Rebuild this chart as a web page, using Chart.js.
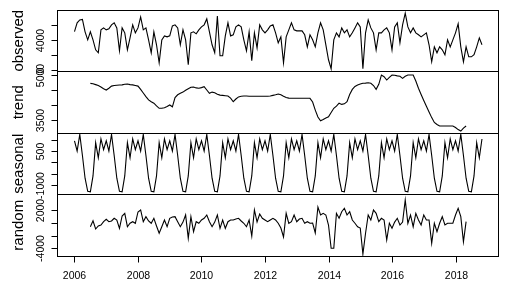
<!DOCTYPE html>
<html>
<head>
<meta charset="utf-8">
<script src="https://cdn.jsdelivr.net/npm/chart.js@4/dist/chart.umd.min.js"></script>
<style>
  html, body { margin: 0; padding: 0; background: #fff; }
</style>
</head>
<body>
<canvas id="decomp" width="508" height="289"></canvas>
<script>
// monthly series, Jan 2006 .. Nov 2018
const startYear = 2006;
const frequency = 12;

const observed = [
  5090, 6230, 6620, 6690, 5050, 4000, 5050, 4000, 2690, 2300, 5310, 5570,
  5310, 5440, 5970, 6230, 5570, 2560, 5570, 4920, 2690, 4260, 5970, 4920,
  5570, 7010, 5310, 5570, 4000, 2300, 5050, 3350, 990, 4000, 4520, 4390,
  4520, 5830, 5970, 5570, 3350, 5310, 4000, 720, 4920, 5050, 4790, 5310,
  5700, 5970, 6750, 5050, 3350, 2300, 7140, 1900, 1900, 4520, 6230, 4520,
  4660, 5700, 5970, 5700, 4000, 2560, 5050, 1250, 4920, 2950, 5970, 5310,
  4920, 5310, 5830, 5970, 4920, 3610, 4390, 990, 4390, 5310, 6230, 5310,
  5180, 5180, 5180, 4660, 3080, 4660, 4000, 3080, 4920, 6230, 5310, 3350,
  1380, 200, 4000, 4920, 4390, 5570, 4920, 5310, 4390, 4920, 5570, 6230,
  5700, 200, 4920, 6620, 5570, 4920, 2690, 4920, 4920, 5310, 5570, 4920,
  2690, 5700, 6230, 3610, 5970, 7500, 5700, 4920, 5570, 4920, 4660, 4390,
  4660, 4920, 3350, 1120, 3080, 2300, 3080, 2690, 2040, 4000, 3080, 4000,
  4920, 6100, 3080, 1120, 3080, 1770, 1770, 2040, 3080, 4260, 3350
];

const trend = [
  null, null, null, null, null, null, 4720, 4710, 4680, 4650, 4600, 4540,
  4500, 4560, 4630, 4650, 4660, 4665, 4670, 4690, 4700, 4680, 4670, 4650,
  4630, 4520, 4400, 4280, 4170, 4110, 4060, 3970, 3890, 3890, 3910, 3950,
  4000, 3940, 4250, 4340, 4390, 4430, 4490, 4540, 4590, 4600, 4570, 4560,
  4580, 4610, 4500, 4390, 4430, 4410, 4360, 4330, 4320, 4310, 4300, 4230,
  4110, 4200, 4270, 4290, 4300, 4300, 4290, 4290, 4290, 4290, 4290, 4290,
  4290, 4290, 4300, 4320, 4340, 4367, 4340, 4290, 4250, 4230, 4223, 4223,
  4223, 4223, 4223, 4223, 4223, 4223, 4100, 3830, 3600, 3477, 3520, 3570,
  3610, 3750, 3890, 3960, 4060, 4020, 4040, 4110, 4350, 4520, 4620, 4667,
  4700, 4723, 4730, 4743, 4723, 4650, 4523, 4690, 5000, 4943, 4833, 4920,
  5000, 4990, 4970, 4960, 4890, 4960, 5000, 5000, 5000, 4800, 4560, 4350,
  4150, 3960, 3770, 3580, 3420, 3350, 3300, 3300, 3300, 3300, 3300, 3300,
  3250, 3180, 3133, 3230, 3300, null, null, null, null, null, null
];

const seasonal = [
  950, 500, 1230, 300, -700, -1280, -1300, -600, 870, 200, 1030, 560,
  950, 500, 1230, 300, -700, -1280, -1300, -600, 870, 200, 1030, 560,
  950, 500, 1230, 300, -700, -1280, -1300, -600, 870, 200, 1030, 560,
  950, 500, 1230, 300, -700, -1280, -1300, -600, 870, 200, 1030, 560,
  950, 500, 1230, 300, -700, -1280, -1300, -600, 870, 200, 1030, 560,
  950, 500, 1230, 300, -700, -1280, -1300, -600, 870, 200, 1030, 560,
  950, 500, 1230, 300, -700, -1280, -1300, -600, 870, 200, 1030, 560,
  950, 500, 1230, 300, -700, -1280, -1300, -600, 870, 200, 1030, 560,
  950, 500, 1230, 300, -700, -1280, -1300, -600, 870, 200, 1030, 560,
  950, 500, 1230, 300, -700, -1280, -1300, -600, 870, 200, 1030, 560,
  950, 500, 1230, 300, -700, -1280, -1300, -600, 870, 200, 1030, 560,
  950, 500, 1230, 300, -700, -1280, -1300, -600, 870, 200, 1030, 560,
  950, 500, 1230, 300, -700, -1280, -1300, -600, 870, 200, 1030
];

const random = [
  null, null, null, null, null, null, -620, 320, -980, -500, -350, 170,
  540, 170, 280, 700, 430, -870, 1060, 1480, -620, -80, 170, -80,
  1690, 2000, 170, 950, 280, -80, 700, -500, -1650, -620, 430, -620,
  700, 900, 950, 170, -620, 100, 1220, -2430, 950, -1400, 170, -80,
  430, 700, 1220, 170, -620, 100, 1220, -870, 430, -870, 170, 430,
  430, 590, 700, 280, -80, -620, 430, -2080, 2000, 120, 1370, 700,
  430, 170, 430, 700, 430, -80, -830, -2230, 1480, -80, 170, 1220,
  170, 590, 700, -80, 170, -80, -40, -1600, 2470, 1220, 1480, 1220,
  -350, -4000, -4000, 1480, 700, 1730, 2270, 1220, 1730, 430, -80, -620,
  -830, -4900, -1650, 1220, 430, 2000, 1480, 170, 700, 430, -2700, -80,
  -870, 100, 700, -350, 100, 3570, -80, 1220, -620, 1480, 430, -350,
  1220, 430, 430, -3220, -80, -1400, -80, 950, -350, -80, -80, -80,
  1220, 2270, 950, -2970, 170, null, null, null, null, null, null
];

// axis ticks and the labels R managed to print
const xTicks = [2006, 2008, 2010, 2012, 2014, 2016, 2018];
const obsTicks = [0, 2000, 4000, 6000];
const obsLabels = ['0', '', '4000', ''];
const trendTicks = [3500, 4000, 4500, 5000];
const trendLabels = ['3500', '', '', '5000'];
const seasTicks = [-1000, -500, 0, 500, 1000];
const seasLabels = ['-1000', '', '', '500', ''];
const randTicks = [-4000, -2000, 0, 2000];
const randLabels = ['-4000', '', '', '2000'];

const times = observed.map((_, i) => startYear + i / frequency);

const panels = [
  { id: 'yObs', title: 'observed', data: observed, min: -160, max: 7920, ticks: obsTicks, labels: obsLabels },
  { id: 'yTrend', title: 'trend', data: trend, min: 3067, max: 5117, ticks: trendTicks, labels: trendLabels },
  { id: 'ySeas', title: 'seasonal', data: seasonal, min: -1419, max: 1294, ticks: seasTicks, labels: seasLabels },
  { id: 'yRand', title: 'random', data: random, min: -5207, max: 4429, ticks: randTicks, labels: randLabels }
];

const FONT = '"Liberation Sans", Arial, sans-serif';

// draws the R-style frame: boxes, outward ticks, rotated labels, panel titles
const rFrame = {
  id: 'rFrame',
  afterDraw(chart) {
    const ctx = chart.ctx;
    const area = chart.chartArea;
    const xs = chart.scales.x;
    ctx.save();
    ctx.strokeStyle = '#000';
    ctx.fillStyle = '#000';
    ctx.lineWidth = 1;
    const L = Math.floor(area.left) + 0.5;
    const R = Math.floor(area.right) + 0.5;

    panels.forEach(p => {
      const s = chart.scales[p.id];
      const T = Math.floor(s.top) + 0.5;
      const B = Math.floor(s.bottom) + 0.5;
      ctx.strokeRect(L, T, R - L, B - T);

      ctx.font = '10.5px ' + FONT;
      ctx.textAlign = 'center';
      ctx.textBaseline = 'middle';
      p.ticks.forEach((v, i) => {
        const y = Math.round(s.getPixelForValue(v)) + 0.5;
        ctx.beginPath();
        ctx.moveTo(L - 6, y);
        ctx.lineTo(L, y);
        ctx.stroke();
        if (p.labels[i]) {
          ctx.save();
          ctx.translate(41, y);
          ctx.rotate(-Math.PI / 2);
          ctx.fillText(p.labels[i], 0, 0);
          ctx.restore();
        }
      });

      ctx.save();
      ctx.font = '15px ' + FONT;
      ctx.translate(18.5, (s.top + s.bottom) / 2);
      ctx.rotate(-Math.PI / 2);
      ctx.fillText(p.title, 0, 0);
      ctx.restore();
    });

    // time axis below the last panel
    const yb = Math.floor(area.bottom) + 0.5;
    ctx.beginPath();
    ctx.moveTo(Math.round(xs.getPixelForValue(xTicks[0])) + 0.5, yb);
    ctx.lineTo(Math.round(xs.getPixelForValue(xTicks[xTicks.length - 1])) + 0.5, yb);
    ctx.stroke();
    ctx.font = '10.5px ' + FONT;
    ctx.textAlign = 'center';
    ctx.textBaseline = 'middle';
    xTicks.forEach(t => {
      const x = Math.round(xs.getPixelForValue(t)) + 0.5;
      ctx.beginPath();
      ctx.moveTo(x, yb);
      ctx.lineTo(x, yb + 6);
      ctx.stroke();
      ctx.fillText(String(t), x, 276);
    });
    ctx.restore();
  }
};

const scales = {
  x: { type: 'linear', min: 2005.465, max: 2019.354, display: false }
};
// left boxes are stacked in reverse order, so the bottom panel goes in first
panels.slice().reverse().forEach(p => {
  scales[p.id] = {
    type: 'linear',
    position: 'left',
    stack: 'panels',
    stackWeight: 1,
    min: p.min,
    max: p.max,
    grid: { display: false },
    border: { display: false },
    ticks: { display: false },
    afterFit: s => { s.width = 57.5; }
  };
});

new Chart(document.getElementById('decomp').getContext('2d'), {
  type: 'line',
  data: {
    labels: times,
    datasets: panels.map(p => ({
      label: p.title,
      data: p.data,
      yAxisID: p.id,
      borderColor: '#000',
      borderWidth: 1.1,
      pointRadius: 0,
      tension: 0,
      spanGaps: false
    }))
  },
  options: {
    responsive: false,
    animation: false,
    devicePixelRatio: 1,
    layout: { padding: { left: 0, top: 10, right: 9.5, bottom: 33 } },
    plugins: { legend: { display: false }, tooltip: { enabled: false } },
    scales: scales
  },
  plugins: [rFrame]
});
</script>
</body>
</html>
